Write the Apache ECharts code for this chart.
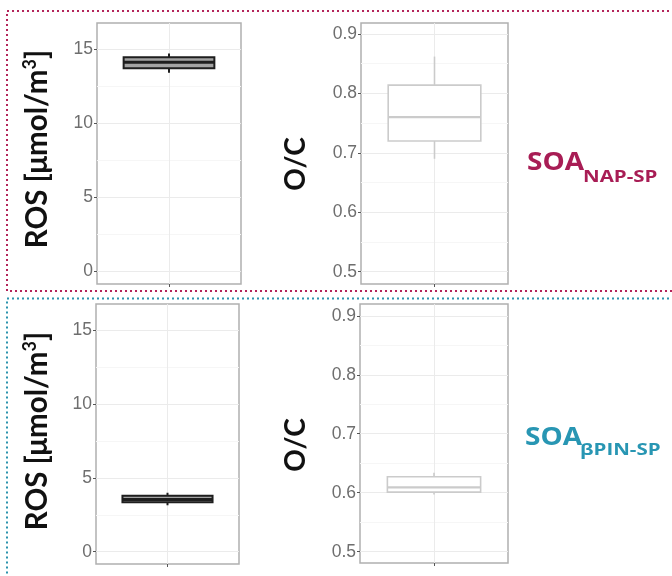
<!DOCTYPE html>
<html>
<head>
<meta charset="utf-8">
<script src="https://cdn.jsdelivr.net/npm/echarts@6/dist/echarts.min.js"></script>
<style>html,body{margin:0;padding:0;background:#fff}#c{width:672px;height:576px}</style>
</head>
<body>
<div id="c"></div>
<script>
// ---- data (min, Q1, median, Q3, max) ----
const categories = ['SOA NAP-SP', 'SOA βPIN-SP'];
const rosNAP = [13.4, 13.7, 14.1, 14.45, 14.7];
const ocNAP = [0.69, 0.72, 0.76, 0.814, 0.862];
const rosBPIN = [3.15, 3.35, 3.55, 3.8, 4.0];
const ocBPIN = [0.597, 0.601, 0.609, 0.627, 0.634];
const rosTicks = [0, 5, 10, 15];
const rosMinor = [2.5, 7.5, 12.5];
const ocTicks = [0.5, 0.6, 0.7, 0.8, 0.9];
const ocMinor = [0.55, 0.65, 0.75, 0.85];

const chart = echarts.init(document.getElementById('c'), null, {renderer: 'canvas'});

const panels = [
  {grid: {left: 97, top: 23, width: 144, height: 261}, min: -0.88, max: 16.76, ticks: rosTicks, minor: rosMinor, data: rosNAP, cat: categories[0], dark: true, fmt: v => String(v)},
  {grid: {left: 361, top: 23, width: 147, height: 261}, min: 0.4793, max: 0.9185, ticks: ocTicks, minor: ocMinor, data: ocNAP, cat: categories[0], dark: false, fmt: v => v.toFixed(1)},
  {grid: {left: 96, top: 304, width: 143, height: 260}, min: -0.835, max: 16.81, ticks: rosTicks, minor: rosMinor, data: rosBPIN, cat: categories[1], dark: true, fmt: v => String(v)},
  {grid: {left: 360, top: 304, width: 148, height: 259}, min: 0.4808, max: 0.920, ticks: ocTicks, minor: ocMinor, data: ocBPIN, cat: categories[1], dark: false, fmt: v => v.toFixed(1)}
];

const grids = [], xAxes = [], yAxes = [], series = [];
const frameColor = '#b0b0b0';
const majorGrid = '#ebebeb';
const minorGrid = '#f6f6f6';

function renderBox(dark) {
  const stroke = dark ? '#1e1e1e' : '#cbcbcb';
  const fill = dark ? '#a3a3a3' : '#ffffff';
  const lw = dark ? 2 : 1.6;
  const medW = dark ? 3 : 2.2;
  return function (params, api) {
    const c = api.value(0);
    const pMin = api.coord([c, api.value(1)]);
    const pQ1 = api.coord([c, api.value(2)]);
    const pMed = api.coord([c, api.value(3)]);
    const pQ3 = api.coord([c, api.value(4)]);
    const pMax = api.coord([c, api.value(5)]);
    const w = api.size([1, 0])[0] * 0.63;
    const x = pMed[0];
    return {
      type: 'group',
      children: [
        {type: 'line', shape: {x1: x, y1: pMax[1], x2: x, y2: pMin[1]}, style: {stroke: stroke, lineWidth: lw}},
        {type: 'rect', shape: {x: x - w / 2, y: pQ3[1], width: w, height: pQ1[1] - pQ3[1]}, style: {fill: fill, stroke: stroke, lineWidth: lw}},
        {type: 'line', shape: {x1: x - w / 2, y1: pMed[1], x2: x + w / 2, y2: pMed[1]}, style: {stroke: stroke, lineWidth: medW}}
      ]
    };
  };
}

panels.forEach((p, i) => {
  grids.push(Object.assign({show: true, borderColor: frameColor, borderWidth: 1.5, backgroundColor: '#fff', containLabel: false}, p.grid));
  xAxes.push({
    type: 'category', gridIndex: i, data: [p.cat], boundaryGap: true, position: 'bottom',
    axisLine: {show: false, onZero: false},
    axisTick: {show: true, alignWithLabel: true, length: 3, lineStyle: {color: '#555', width: 1}},
    axisLabel: {show: false},
    splitLine: {show: false}
  });
  yAxes.push({
    type: 'value', gridIndex: i, min: p.min, max: p.max, position: 'left',
    axisLine: {show: false, onZero: false},
    axisTick: {show: true, length: 3, customValues: p.ticks, lineStyle: {color: '#555', width: 1}},
    axisLabel: {show: true, customValues: p.ticks, formatter: p.fmt, color: '#6e6e6e', fontSize: 17.5, fontFamily: 'Liberation Sans', margin: 4},
    splitLine: {show: true, lineStyle: {color: majorGrid, width: 1}}
  });
});
panels.forEach((p, i) => {
  xAxes.push({
    type: 'value', gridIndex: i, min: -1, max: 1, position: 'top',
    axisLine: {show: false, onZero: false},
    axisTick: {show: false, customValues: [0]},
    axisLabel: {show: false, customValues: [0]},
    splitLine: {show: true, lineStyle: {color: majorGrid, width: 1}}
  });
  yAxes.push({
    type: 'value', gridIndex: i, min: p.min, max: p.max, position: 'right',
    axisLine: {show: false, onZero: false},
    axisTick: {show: false, customValues: p.minor},
    axisLabel: {show: false, customValues: p.minor},
    splitLine: {show: true, lineStyle: {color: minorGrid, width: 1}}
  });
  series.push({
    type: 'custom', xAxisIndex: i, yAxisIndex: i,
    renderItem: renderBox(p.dark),
    encode: {x: 0, y: [1, 2, 3, 4, 5]},
    data: [[0].concat(p.data)],
    z: 5
  });
});

const titleFont = 'Lato';
function axisTitle(x, y) {
  return {
    type: 'text', x: x, y: y, rotation: Math.PI / 2,
    style: {
      text: '{a|ROS [μmol/m}{s|3}{a|]}',
      rich: {
        a: {fontSize: 29.5, fontWeight: 'bold', fontFamily: titleFont, fill: '#111'},
        s: {fontSize: 18, fontWeight: 'bold', fontFamily: titleFont, fill: '#111', verticalAlign: 'top', padding: [0, 0, 13, 0]}
      },
      align: 'center', verticalAlign: 'middle'
    }
  };
}
function ocTitle(x, y) {
  return {
    type: 'text', x: x, y: y, rotation: Math.PI / 2,
    style: {text: 'O/C', fontSize: 28, fontWeight: 'bold', fontFamily: titleFont, fill: '#111', align: 'center', verticalAlign: 'middle'}
  };
}

const graphics = [
  {type: 'rect', shape: {x: 7, y: 11, width: 700, height: 280}, style: {fill: 'none', stroke: '#b3245a', lineWidth: 2, lineDash: [2, 3]}, z: 10},
  {type: 'rect', shape: {x: 7, y: 298.5, width: 700, height: 330}, style: {fill: 'none', stroke: '#2b93ad', lineWidth: 2, lineDash: [2, 3]}, z: 10},
  axisTitle(37, 149),
  ocTitle(296, 164),
  axisTitle(37, 431),
  ocTitle(296, 445),
  {type: 'text', x: 527, y: 163, scaleX: 1.12, style: {text: 'SOA', fontSize: 25, fontWeight: 'bold', fontFamily: 'Open Sans', fill: '#a81d55', align: 'left', verticalAlign: 'middle'}},
  {type: 'text', x: 583, y: 177, scaleX: 1.28, style: {text: 'NAP-SP', fontSize: 16, fontWeight: 'bold', fontFamily: 'Open Sans', fill: '#a81d55', align: 'left', verticalAlign: 'middle'}},
  {type: 'text', x: 525, y: 438, scaleX: 1.12, style: {text: 'SOA', fontSize: 25, fontWeight: 'bold', fontFamily: 'Open Sans', fill: '#2896b3', align: 'left', verticalAlign: 'middle'}},
  {type: 'text', x: 580, y: 450.5, scaleX: 1.28, style: {text: 'βPIN-SP', fontSize: 16, fontWeight: 'bold', fontFamily: 'Open Sans', fill: '#2896b3', align: 'left', verticalAlign: 'middle'}}
];

chart.setOption({
  animation: false,
  backgroundColor: '#ffffff',
  grid: grids,
  xAxis: xAxes,
  yAxis: yAxes,
  series: series,
  graphic: graphics
});
</script>
</body>
</html>
